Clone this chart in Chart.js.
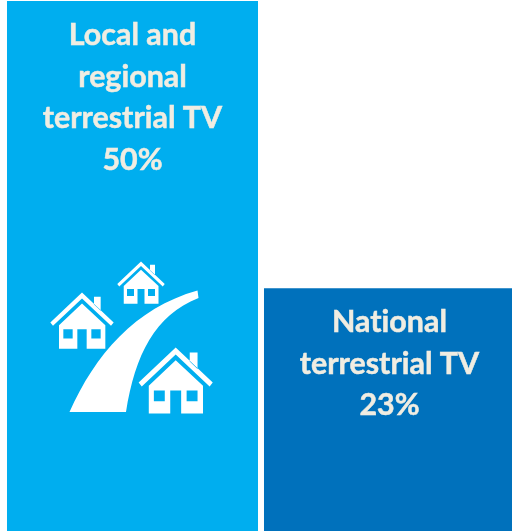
<!DOCTYPE html>
<html>
<head>
<meta charset="utf-8">
<script src="https://cdn.jsdelivr.net/npm/chart.js@4/dist/chart.umd.min.js"></script>
<style>
  html, body { margin: 0; background: #fff; overflow: hidden; }
  #wrap { width: 512px; height: 531px; overflow: hidden; }
  canvas { display: block; }
</style>
</head>
<body>
<div id="wrap"><canvas id="c" width="518" height="533"></canvas></div>
<script>
const categories = ['Local and regional terrestrial TV', 'National terrestrial TV'];
const shares = [50, 23];
const barColors = ['#00aeef', '#0071bc'];
const labelLines = [
    ['Local and', 'regional', 'terrestrial TV', '50%'],
    ['National', 'terrestrial TV', '23%']
];

const textColor = '#f0ede2';
const labelFont = 'bold 30.4px Lato, sans-serif';

// labels sit inside the bars, starting from the bar top
const barLabels = {
    id: 'barLabels',
    afterDatasetsDraw(chart) {
        const ctx = chart.ctx;
        ctx.save();
        ctx.font = labelFont;
        ctx.letterSpacing = '0.01px'; // stops the "ti" ligature in Lato
        ctx.fillStyle = textColor;
        ctx.strokeStyle = textColor;
        ctx.lineWidth = 0.5;
        ctx.textAlign = 'center';
        ctx.textBaseline = 'alphabetic';
        chart.getDatasetMeta(0).data.forEach((bar, i) => {
            labelLines[i].forEach((line, j) => {
                const y = bar.y + 44 + j * 41.6;
                ctx.fillText(line, bar.x, y);
                ctx.strokeText(line, bar.x, y);
            });
        });
        ctx.restore();
    }
};

function housePath(x, y, s) {
    const p = new Path2D();
    const poly = pts => {
        pts.forEach((q, i) => {
            const px = x + q[0] * s / 3, py = y + q[1] * s / 3;
            if (i === 0) p.moveTo(px, py); else p.lineTo(px, py);
        });
        p.closePath();
    };
    // roof
    poly([[0,0],[95,90],[87,100],[0,18],[-87,100],[-95,90]]);
    // chimney
    poly([[36,13],[56,13],[56,55],[36,36]]);
    // walls with door
    poly([[0,33],[70,98],[70,169],[14,169],[14,110],[-14,110],[-14,169],[-69,169],[-69,98]]);
    // windows
    poly([[-56,110],[-28,110],[-28,138],[-56,138]]);
    poly([[28,110],[56,110],[56,138],[28,138]]);
    return p;
}

// road and houses pictogram on the first bar
const icon = {
    id: 'icon',
    afterDatasetsDraw(chart) {
        const ctx = chart.ctx;
        const bar = chart.getDatasetMeta(0).data[0];
        const ox = bar.x - 132.5, oy = bar.base - 533;
        ctx.save();
        ctx.translate(ox, oy);
        ctx.fillStyle = '#fff';
        ctx.beginPath();
        ctx.moveTo(69.5, 412);
        ctx.bezierCurveTo(95, 355, 135, 308, 197.5, 290.5);
        ctx.lineTo(198.5, 298);
        ctx.bezierCurveTo(155, 315, 135, 355, 126, 412);
        ctx.closePath();
        ctx.fill();
        ctx.fill(housePath(82, 292.5, 1), 'evenodd');
        ctx.fill(housePath(141, 261.5, 0.75), 'evenodd');
        ctx.fill(housePath(175.7, 347.5, 1.17), 'evenodd');
        ctx.restore();
    }
};

new Chart(document.getElementById('c'), {
    type: 'bar',
    data: {
        labels: categories,
        datasets: [{
            data: shares,
            backgroundColor: barColors,
            borderWidth: 0,
            barPercentage: 0.9767,
            categoryPercentage: 1
        }]
    },
    options: {
        responsive: false,
        animation: false,
        layout: { padding: { left: 4, top: 1, right: 0, bottom: 0 } },
        scales: {
            x: { display: false },
            y: { display: false, min: 0, max: 50 }
        },
        plugins: { legend: { display: false }, tooltip: { enabled: false } }
    },
    plugins: [barLabels, icon]
});
</script>
</body>
</html>
